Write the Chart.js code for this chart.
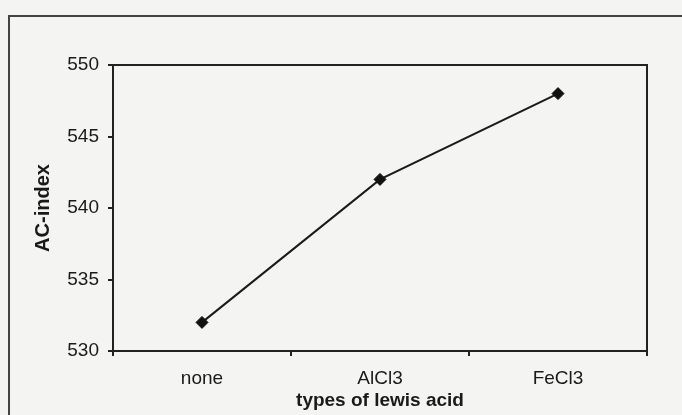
<!DOCTYPE html>
<html>
<head>
<meta charset="utf-8">
<script src="https://cdn.jsdelivr.net/npm/chart.js@4/dist/chart.umd.min.js"></script>
<style>
  html, body { margin: 0; padding: 0; background: #f4f4f2; overflow: hidden; }
  #wrap { position: relative; width: 682px; height: 415px; }
  #frame { position: absolute; left: 8px; top: 15px; width: 700px; height: 420px;
           border-left: 2px solid #444; border-top: 2px solid #444; }
  canvas { position: absolute; left: 0; top: 0; }
</style>
</head>
<body>
<div id="wrap">
  <div id="frame"></div>
  <canvas id="acid-chart" width="682" height="415"></canvas>
</div>
<script>
const categories = ['none', 'AlCl3', 'FeCl3'];
const acIndex = [532, 542, 548];
const yTicks = [530, 535, 540, 545, 550];

const ink = '#1a1a1a';
const fontFamily = '"Liberation Sans", Arial, sans-serif';

// box round the plot area (top and right sides come from here)
const plotBox = {
  id: 'plotBox',
  afterDraw(chart) {
    const { ctx, chartArea: a } = chart;
    ctx.save();
    ctx.strokeStyle = '#222';
    ctx.lineWidth = 2;
    ctx.strokeRect(a.left, a.top, a.right - a.left, a.bottom - a.top);
    ctx.restore();
  },
};

new Chart(document.getElementById('acid-chart'), {
  type: 'line',
  data: {
    labels: categories,
    datasets: [
      {
        label: 'AC-index',
        data: acIndex,
        borderColor: ink,
        borderWidth: 2,
        backgroundColor: '#111',
        pointStyle: 'rectRot',
        pointRadius: 6,
        pointBorderWidth: 1,
        pointBorderColor: '#111',
        tension: 0,
      },
    ],
  },
  options: {
    responsive: false,
    animation: false,
    layout: { padding: { left: 0, top: 65, right: 35, bottom: 0 } },
    plugins: {
      legend: { display: false },
      tooltip: { enabled: false },
    },
    scales: {
      x: {
        offset: true,
        grid: { display: true, offset: true, drawOnChartArea: false, tickLength: 5, color: '#222', lineWidth: 2 },
        border: { color: '#222', width: 2 },
        ticks: { color: ink, font: { family: fontFamily, size: 19 }, padding: 11 },
        title: {
          display: true,
          text: 'types of lewis acid',
          color: ink,
          font: { family: fontFamily, size: 19, weight: 'bold' },
          padding: { top: 0, bottom: 3 },
        },
        afterFit(scale) { scale.height = 64; },
      },
      y: {
        min: 530,
        max: 550,
        afterBuildTicks(scale) { scale.ticks = yTicks.map((v) => ({ value: v })); },
        grid: { display: true, drawOnChartArea: false, tickLength: 5, color: '#222', lineWidth: 2 },
        border: { color: '#222', width: 2 },
        ticks: { color: ink, font: { family: fontFamily, size: 19 }, padding: 9 },
        title: {
          display: true,
          text: 'AC-index',
          color: ink,
          font: { family: fontFamily, size: 20, weight: 'bold' },
          padding: { top: 31, bottom: 0 },
        },
        afterFit(scale) { scale.width = 113; },
      },
    },
  },
  plugins: [plotBox],
});
</script>
</body>
</html>
